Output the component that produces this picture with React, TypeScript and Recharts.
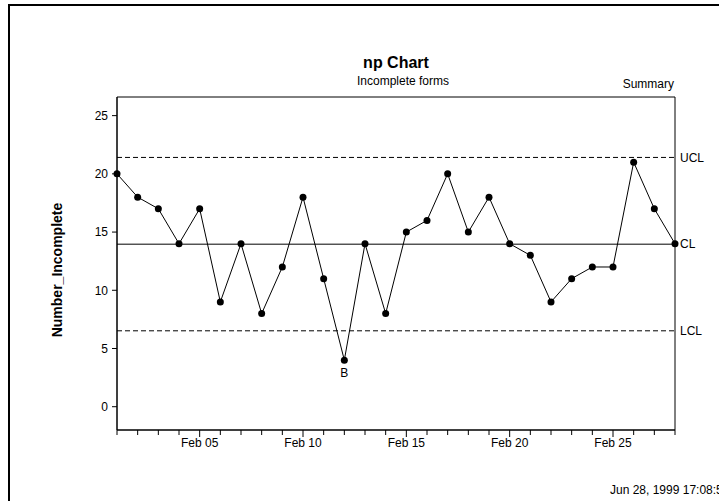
import { LineChart, Line, XAxis, YAxis, ReferenceLine, ReferenceArea, LabelList } from "recharts";

// days of February 1999
const days = [1, 2, 3, 4, 5, 6, 7, 8, 9, 10, 11, 12, 13, 14, 15, 16, 17, 18, 19, 20, 21, 22, 23, 24, 25, 26, 27, 28];
const incomplete = [20, 18, 17, 14, 17, 9, 14, 8, 12, 18, 11, 4, 14, 8, 15, 16, 20, 15, 18, 14, 13, 9, 11, 12, 12, 21, 17, 14];
const flags = ["", "", "", "", "", "", "", "", "", "", "", "B", "", "", "", "", "", "", "", "", "", "", "", "", "", "", "", ""];

const centerLine = 13.96;
const upperLimit = 21.41;
const lowerLimit = 6.52;

const yTicks = [0, 5, 10, 15, 20, 25];
const yDomain = [-2, 26.6];
const dayLabels: Record<number, string> = { 5: "Feb 05", 10: "Feb 10", 15: "Feb 15", 20: "Feb 20", 25: "Feb 25" };

const data = days.map((d, i) => ({ day: d, value: incomplete[i], flag: flags[i] }));

const FONT = "Arial, 'Liberation Sans', sans-serif";

function DayTick({ x, y, payload }: any) {
  const label = dayLabels[payload.value];
  return (
    <g>
      <line x1={x} x2={x} y1={y} y2={y + (label ? 7 : 5)} stroke="#000" />
      {label && (
        <text x={x} y={y + 13} textAnchor="middle" dominantBaseline="central" fontSize={12} fill="#000" fontFamily={FONT}>
          {label}
        </text>
      )}
    </g>
  );
}

export default function App() {
  return (
    <div style={{ position: "absolute", left: 0, top: 0, width: 719, height: 501, background: "#fff", fontFamily: FONT }}>
      <LineChart width={719} height={501} data={data} margin={{ top: 97, right: 44, bottom: 41, left: 57 }}>
        <XAxis
          dataKey="day"
          type="number"
          domain={[1, 28]}
          ticks={days}
          interval={0}
          height={30}
          tickSize={0}
          tickMargin={0}
          tickLine={false}
          axisLine={{ stroke: "#000" }}
          tick={<DayTick />}
        />
        <YAxis
          type="number"
          domain={yDomain}
          ticks={yTicks}
          allowDataOverflow
          width={60}
          tickSize={5}
          tickMargin={4}
          axisLine={{ stroke: "#000" }}
          tickLine={{ stroke: "#000" }}
          tick={{ fill: "#000", fontSize: 12, fontFamily: FONT }}
        />
        <ReferenceArea x1={1} x2={28} y1={yDomain[0]} y2={yDomain[1]} fill="none" stroke="#000" />
        <ReferenceLine
          y={upperLimit}
          stroke="#000"
          strokeDasharray="5 3"
          label={{ value: "UCL", position: "right", fill: "#000", fontSize: 12, fontFamily: FONT }}
        />
        <ReferenceLine
          y={centerLine}
          stroke="#000"
          label={{ value: "CL", position: "right", fill: "#000", fontSize: 12, fontFamily: FONT }}
        />
        <ReferenceLine
          y={lowerLimit}
          stroke="#000"
          strokeDasharray="5 3"
          label={{ value: "LCL", position: "right", fill: "#000", fontSize: 12, fontFamily: FONT }}
        />
        <Line
          dataKey="value"
          stroke="#000"
          strokeWidth={1}
          dot={{ r: 3.5, fill: "#000", stroke: "none" }}
          isAnimationActive={false}
        >
          <LabelList dataKey="flag" position="bottom" offset={8} fill="#000" fontSize={12} fontFamily={FONT} />
        </Line>
      </LineChart>
      <svg width={719} height={501} style={{ position: "absolute", left: 0, top: 0, pointerEvents: "none" }}>
        <path d="M 9 501 V 5 H 719" fill="none" stroke="#000" strokeWidth={2} />
        <text x={396} y={62} textAnchor="middle" dominantBaseline="central" fontSize={16} fontWeight="bold" fill="#000" fontFamily={FONT}>
          np Chart
        </text>
        <text x={403} y={81} textAnchor="middle" dominantBaseline="central" fontSize={12} fill="#000" fontFamily={FONT}>
          Incomplete forms
        </text>
        <text x={674} y={84} textAnchor="end" dominantBaseline="central" fontSize={12} fill="#000" fontFamily={FONT}>
          Summary
        </text>
        <text
          x={57}
          y={270}
          transform="rotate(-90 57 270)"
          textAnchor="middle"
          dominantBaseline="central"
          fontSize={14}
          fontWeight="bold"
          fill="#000"
          fontFamily={FONT}
        >
          Number_Incomplete
        </text>
        <text x={610} y={490} dominantBaseline="central" fontSize={12} fill="#000" fontFamily={FONT}>
          Jun 28, 1999 17:08:53
        </text>
      </svg>
    </div>
  );
}
